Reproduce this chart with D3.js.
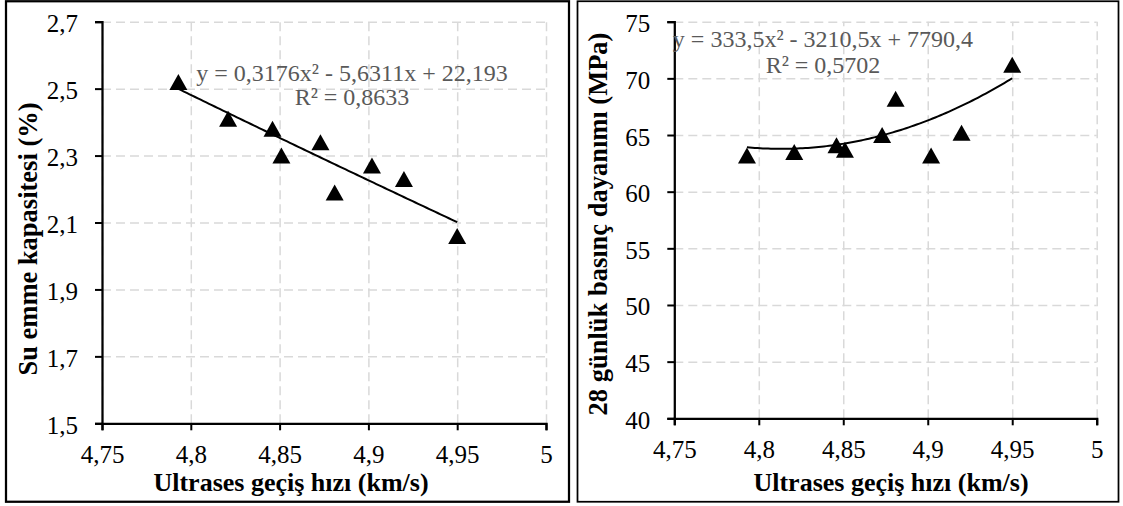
<!DOCTYPE html>
<html>
<head>
<meta charset="utf-8">
<script src="https://cdn.jsdelivr.net/npm/d3@7"></script>
<style>
  html, body { margin: 0; padding: 0; background: #fff; }
  svg { display: block; }
  text { font-family: "Liberation Serif", "Times New Roman", serif; }
</style>
</head>
<body>
<svg id="chart" width="1123" height="506"></svg>
<script>
// Ultrasonic pulse velocity (km/s) of the nine specimens
const velocity = [4.793, 4.821, 4.846, 4.851, 4.873, 4.881, 4.902, 4.92, 4.95];
// Water absorption capacity (%)
const absorption = [2.52, 2.41, 2.38, 2.30, 2.34, 2.19, 2.27, 2.23, 2.06];
// 28-day compressive strength (MPa)
const strength = [63.2, 63.5, 64.1, 63.7, 65.0, 68.2, 63.2, 65.2, 71.2];

// Axis ticks
const xTicks = [4.75, 4.8, 4.85, 4.9, 4.95, 5];
const absorptionTicks = [1.5, 1.7, 1.9, 2.1, 2.3, 2.5, 2.7];
const strengthTicks = [40, 45, 50, 55, 60, 65, 70, 75];

// Polynomial (order 2) trendline coefficients [a, b, c] for y = a·x² + b·x + c
const absorptionFit = [0.3176, -5.6311, 22.193];
const strengthFit = [333.5, -3210.5, 7790.4];
const absorptionFitText = ["y = 0,3176x² - 5,6311x + 22,193", "R² = 0,8633"];
const strengthFitText = ["y = 333,5x² - 3210,5x + 7790,4", "R² = 0,5702"];

// Axis titles
const xTitle = "Ultrases geçiş hızı (km/s)";
const absorptionTitle = "Su emme kapasitesi (%)";
const strengthTitle = "28 günlük basınç dayanımı (MPa)";

const tr = d3.formatLocale({ decimal: ",", thousands: ".", grouping: [3], currency: ["", " ₺"] });
const fmt = tr.format("~g");

const svg = d3.select("#chart");

// Filled triangle marker, centred on its bounding box
const triangle = {
  draw(ctx) {
    const w = 18, h = 16;
    ctx.moveTo(0, -h / 2);
    ctx.lineTo(w / 2, h / 2);
    ctx.lineTo(-w / 2, h / 2);
    ctx.closePath();
  }
};

function panel(opt) {
  const g = svg.append("g");

  g.append("rect")
    .attr("x", opt.frame[0]).attr("y", opt.frame[1])
    .attr("width", opt.frame[2]).attr("height", opt.frame[3])
    .attr("fill", "#fff").attr("stroke", "#000").attr("stroke-width", opt.frameWidth);

  const x = d3.scaleLinear().domain([4.75, 5]).range([opt.left, opt.right]);
  const y = d3.scaleLinear().domain(opt.yDomain).range([opt.bottom, opt.top]);
  const w = opt.right - opt.left, h = opt.bottom - opt.top;

  // dashed grid
  const gx = g.append("g").attr("transform", `translate(0,${opt.bottom})`)
    .call(d3.axisBottom(x).tickValues(xTicks).tickSize(-h).tickFormat(""));
  const gy = g.append("g").attr("transform", `translate(${opt.left},0)`)
    .call(d3.axisLeft(y).tickValues(opt.yTicks).tickSize(-w).tickFormat(""));
  [gx, gy].forEach(a => {
    a.select(".domain").remove();
    a.selectAll("line").attr("stroke", "#d9d9d9").attr("stroke-width", 1.5)
      .attr("stroke-dasharray", "9,5");
  });

  // trendline over the measured range
  const [a, b, c] = opt.fit;
  const ext = d3.extent(opt.xs);
  const curve = d3.range(0, 101).map(i => {
    const v = ext[0] + (ext[1] - ext[0]) * i / 100;
    return [v, a * v * v + b * v + c];
  });
  g.append("path").datum(curve)
    .attr("fill", "none").attr("stroke", "#000").attr("stroke-width", 2)
    .attr("d", d3.line().x(d => x(d[0])).y(d => y(d[1])));

  // points
  g.append("g").selectAll("path").data(opt.xs.map((v, i) => [v, opt.ys[i]]))
    .join("path")
    .attr("transform", d => `translate(${x(d[0])},${y(d[1])})`)
    .attr("d", d3.symbol().type(triangle)())
    .attr("fill", "#000");

  // axes
  const ax = g.append("g").attr("transform", `translate(0,${opt.bottom})`)
    .call(d3.axisBottom(x).tickValues(xTicks).tickSize(7).tickPadding(15).tickFormat(fmt));
  const ay = g.append("g").attr("transform", `translate(${opt.left},0)`)
    .call(d3.axisLeft(y).tickValues(opt.yTicks).tickSize(7).tickPadding(17).tickFormat(fmt));
  [ax, ay].forEach(a => {
    a.select(".domain").attr("stroke", "#000").attr("stroke-width", 2.25);
    a.selectAll(".tick line").attr("stroke", "#000").attr("stroke-width", 2);
    a.selectAll(".tick text").attr("fill", "#000")
      .style("font-family", '"Liberation Serif", "Times New Roman", serif')
      .style("font-size", "25px");
  });
  ay.selectAll(".tick text").attr("dy", "0.4em");

  // trendline equation
  const eq = g.append("text").attr("text-anchor", "middle").attr("fill", "#595959")
    .style("font-size", "24px");
  opt.fitText.forEach((t, i) => {
    eq.append("tspan").attr("x", opt.eqX).attr("y", opt.eqY[i]).text(t);
  });

  // titles
  g.append("text").attr("x", opt.xTitleX).attr("y", 491)
    .attr("text-anchor", "middle").style("font-size", "26px").style("font-weight", "bold")
    .text(xTitle);
  g.append("text")
    .attr("transform", `translate(${opt.yTitleX},${opt.yTitleY}) rotate(-90)`)
    .attr("text-anchor", "middle").style("font-size", "26.5px").style("font-weight", "bold")
    .text(opt.yTitle);
}

panel({
  frame: [6, 1.25, 563, 500.5], frameWidth: 2.25,
  left: 102, right: 546, top: 21.7, bottom: 423.3,
  yDomain: [1.5, 2.7], yTicks: absorptionTicks,
  xs: velocity, ys: absorption, fit: absorptionFit, fitText: absorptionFitText,
  eqX: 352, eqY: [81, 105],
  xTitleX: 291, yTitleX: 37, yTitleY: 239, yTitle: absorptionTitle
});

panel({
  frame: [577.5, 1.25, 541, 500.5], frameWidth: 1.75,
  left: 674.3, right: 1096.7, top: 21.7, bottom: 418.3,
  yDomain: [40, 75], yTicks: strengthTicks,
  xs: velocity, ys: strength, fit: strengthFit, fitText: strengthFitText,
  eqX: 823, eqY: [47, 73],
  xTitleX: 891, yTitleX: 607, yTitleY: 224, yTitle: strengthTitle
});
</script>
</body>
</html>
